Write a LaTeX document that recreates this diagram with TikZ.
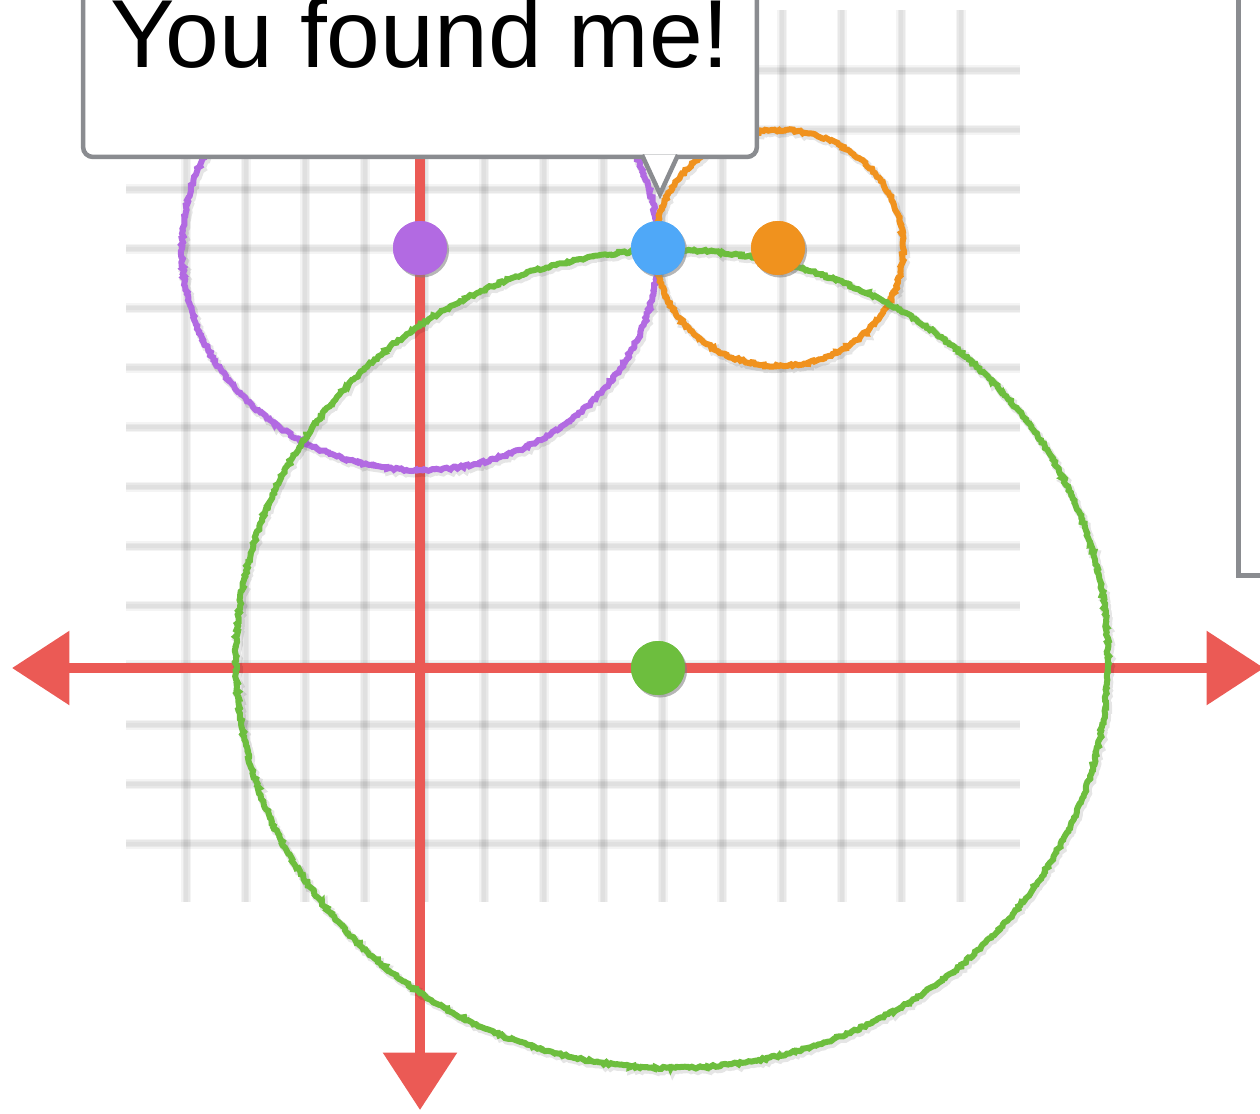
\documentclass[tikz,border=0pt]{standalone}
\usepackage{fontspec}
\setmainfont{Liberation Sans}
\usetikzlibrary{arrows.meta,shadows,decorations.pathmorphing}
\definecolor{axisred}{HTML}{EB5A55}
\definecolor{ptpurple}{HTML}{B26AE2}
\definecolor{ptblue}{HTML}{4FA8F8}
\definecolor{ptorange}{HTML}{F0921E}
\definecolor{ptgreen}{HTML}{6DBE3E}
\definecolor{framegray}{HTML}{8A8C90}

\begin{document}
\begin{tikzpicture}[x=0.02cm, y=-0.02cm,
  gridblur/.style={line width=0.2cm, black, opacity=0.045},
  gridline/.style={line width=0.14cm, black, opacity=0.05},
  gridcore/.style={line width=0.08cm, black, opacity=0.035},
  axisline/.style={line width=0.2cm, axisred},
  a/.style={-{Triangle[length=1.15cm,width=1.44cm]}},
  ab/.style={{Triangle[length=1.15cm,width=1.44cm]}-{Triangle[length=1.15cm,width=1.44cm]}},
  ring/.style={draw=#1, line width=0.12cm, decorate,
               decoration={random steps, segment length=1.3pt, amplitude=0.7pt},
               preaction={draw=black, opacity=0.1, line width=0.16cm,
                          transform canvas={shift={(0.04cm,-0.05cm)}}}},
  dot/.style={circle, fill=#1, minimum size=1.08cm, inner sep=0pt,
              drop shadow={shadow xshift=0.04cm, shadow yshift=-0.05cm, opacity=0.35}},
  bubble/.style={rectangle, draw=framegray, fill=white, line width=0.09cm,
                 rounded corners=0.2cm, minimum width=13.48cm, minimum height=4.96cm,
                 inner sep=0pt, font=\fontsize{55}{62}\selectfont},
  bubbleline/.style={draw=framegray, fill=white, line width=0.09cm, line join=miter},
  panel/.style={draw=framegray, line width=0.1cm}]

  \useasboundingbox (0,0) rectangle (1260,1113);

  \foreach \k in {0,...,13} {
    \foreach \s in {gridblur, gridline, gridcore} {
      \draw[\s] ({186+59.6*\k},10) -- ({186+59.6*\k},902);
      \draw[\s] (126,{70+59.5*\k}) -- (1020,{70+59.5*\k});
    }
  }

  \coordinate (xl) at (12,668);
  \coordinate (xr) at (1264,668);
  \coordinate (yt) at (420,120);
  \coordinate (yb) at (420,1110);
  \coordinate (tip) at (660,194);

  \draw[axisline, ab] (xl) -- (xr);
  \draw[axisline, a]  (yt) -- (yb);

  \node[dot=ptpurple] (pdot) at (420,248) {};
  \node[dot=ptblue]   (bdot) at (658,248) {};
  \node[dot=ptorange] (odot) at (778,248) {};
  \node[dot=ptgreen]  (gdot) at (658,668) {};

  \draw[ring=ptpurple] (420,249) ellipse [x radius=238, y radius=221];
  \draw[ring=ptorange] (779,248) ellipse [x radius=124, y radius=118];
  \draw[ring=ptgreen]  (672,659) ellipse [x radius=436, y radius=409];

  \node[dot=ptpurple] at (pdot) {};
  \node[dot=ptblue]   at (bdot) {};
  \node[dot=ptorange] at (odot) {};
  \node[dot=ptgreen]  at (gdot) {};

  \node[bubble] (msg) at (420,33) {You found me!};
  \filldraw[bubbleline] (642,155) -- (tip) -- (678,155);

  \draw[panel] (1238,-20) rectangle (1300,575);

\end{tikzpicture}
\end{document}
